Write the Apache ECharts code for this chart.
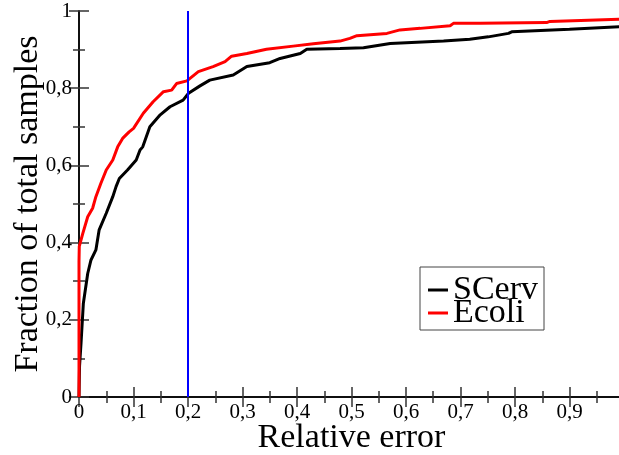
<!DOCTYPE html>
<html>
<head>
<meta charset="utf-8">
<script src="https://cdn.jsdelivr.net/npm/echarts@6/dist/echarts.min.js"></script>
<style>html,body{margin:0;padding:0;background:#fff;}#c{width:619px;height:455px;}</style>
</head>
<body>
<div id="c"></div>
<script>
var seriesNames = ['SCerv', 'Ecoli'];
var scervData = [[0,0],[0.001,0.08],[0.0037,0.139],[0.008,0.243],[0.016,0.32],[0.022,0.355],[0.031,0.381],[0.037,0.433],[0.050,0.476],[0.062,0.519],[0.068,0.545],[0.074,0.566],[0.089,0.588],[0.105,0.614],[0.112,0.640],[0.117,0.648],[0.130,0.700],[0.149,0.731],[0.167,0.752],[0.191,0.769],[0.201,0.787],[0.222,0.806],[0.240,0.821],[0.283,0.834],[0.308,0.856],[0.350,0.866],[0.369,0.877],[0.406,0.890],[0.418,0.901],[0.479,0.903],[0.522,0.905],[0.571,0.916],[0.669,0.922],[0.717,0.927],[0.751,0.933],[0.754,0.938],[0.788,0.942],[0.794,0.946],[0.900,0.953],[1.0,0.960]];
var ecoliData = [[0,0],[0,0.35],[0.0005,0.39],[0.007,0.424],[0.016,0.467],[0.025,0.489],[0.031,0.519],[0.040,0.553],[0.050,0.588],[0.062,0.614],[0.071,0.648],[0.080,0.670],[0.092,0.687],[0.100,0.696],[0.118,0.735],[0.136,0.765],[0.155,0.791],[0.170,0.795],[0.179,0.812],[0.198,0.819],[0.219,0.843],[0.246,0.856],[0.268,0.869],[0.280,0.883],[0.308,0.890],[0.344,0.901],[0.393,0.909],[0.430,0.915],[0.479,0.922],[0.497,0.929],[0.510,0.936],[0.565,0.942],[0.589,0.951],[0.626,0.955],[0.629,0.959],[0.681,0.962],[0.687,0.968],[0.736,0.968],[0.858,0.970],[0.864,0.973],[1.0,0.979]];
var thresholdLine = [[0.2,0],[0.2,1]];
var xTicks = {min:0, max:1, interval:0.1};
var yTicks = {min:0, max:1, interval:0.2};

var serif = '"Liberation Serif","DejaVu Serif",serif';
function fmt(v){ var s = (Math.round(v*10)/10).toString(); return s.replace('.', ','); }
var tickStyle = {show:true, inside:true, length:10, lineStyle:{color:'#333', width:1.5}};
var minorStyle = {show:true, splitNumber:2, length:6, lineStyle:{color:'#333', width:1.5}};
var axisLine = {show:true, lineStyle:{color:'#000', width:1.5}};

var chart = echarts.init(document.getElementById('c'), null, {renderer:'canvas'});
chart.setOption({
  animation:false,
  backgroundColor:'#fff',
  grid:{left:79, top:11, width:545, height:386, containLabel:false, outerBoundsMode:'none'},
  legend:{
    data:seriesNames, orient:'vertical', left:420, top:267,
    itemWidth:20, itemHeight:3, itemGap:-11, icon:'rect',
    padding:[6,6,0,8], borderColor:'#444', borderWidth:1,
    textStyle:{fontFamily:serif, fontSize:34, color:'#000', padding:[0,0,0,0]}
  },
  xAxis:[{
    type:'value', min:xTicks.min, max:xTicks.max, interval:xTicks.interval, position:'bottom',
    name:'Relative error', nameLocation:'middle', nameGap:24, nameMoveOverlap:false,
    nameTextStyle:{fontFamily:serif, fontSize:34, color:'#000'},
    axisLine:axisLine, axisTick:tickStyle, minorTick:minorStyle,
    splitLine:{show:false},
    axisLabel:{fontFamily:serif, fontSize:21, color:'#000', margin:5, formatter:fmt}
  },{
    type:'value', min:xTicks.min, max:xTicks.max, interval:xTicks.interval, position:'top',
    axisLine:axisLine, axisTick:tickStyle, minorTick:minorStyle,
    splitLine:{show:false}, axisLabel:{show:false}
  }],
  yAxis:[{
    type:'value', min:yTicks.min, max:yTicks.max, interval:yTicks.interval, position:'left',
    name:'Fraction of total samples', nameLocation:'middle', nameGap:34, nameMoveOverlap:false,
    nameTextStyle:{fontFamily:serif, fontSize:34, color:'#000'},
    axisLine:axisLine, axisTick:tickStyle, minorTick:minorStyle,
    splitLine:{show:false},
    axisLabel:{fontFamily:serif, fontSize:21, color:'#000', margin:7, formatter:fmt}
  },{
    type:'value', min:yTicks.min, max:yTicks.max, interval:yTicks.interval, position:'right',
    axisLine:axisLine, axisTick:tickStyle, minorTick:minorStyle,
    splitLine:{show:false}, axisLabel:{show:false}
  }],
  series:[
    {name:seriesNames[0], type:'line', data:scervData, showSymbol:false, symbol:'none',
     lineStyle:{color:'#000', width:3}, itemStyle:{color:'#000'}, z:2},
    {name:seriesNames[1], type:'line', data:ecoliData, showSymbol:false, symbol:'none',
     lineStyle:{color:'#ff0000', width:3}, itemStyle:{color:'#ff0000'}, z:3},
    {name:'threshold', type:'line', data:thresholdLine, showSymbol:false, symbol:'none',
     lineStyle:{color:'#0000ff', width:2}, itemStyle:{color:'#0000ff'}, z:4}
  ]
});
</script>
</body>
</html>
